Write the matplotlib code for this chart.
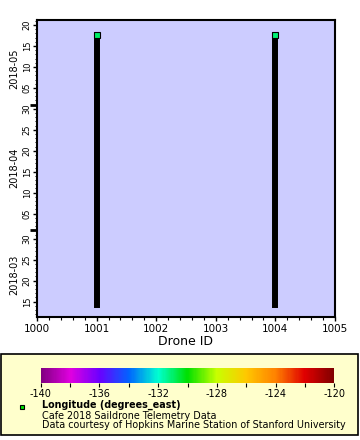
import matplotlib
matplotlib.use("Agg")
import matplotlib.pyplot as plt
import matplotlib.dates as mdates
import matplotlib.transforms as mtransforms
from matplotlib.colors import LinearSegmentedColormap, Normalize
from matplotlib.patches import Rectangle
import numpy as np

# donnees
drone_ids = [1001, 1004]
debut = ["2018-03-14T07:00", "2018-03-14T07:00"]
fin = ["2018-05-17T17:30", "2018-05-17T17:30"]
lon_fin = [-131.0, -131.1]

y_min, y_max = "2018-03-11T08:00", "2018-05-21T05:00"
x_min, x_max = 1000, 1005
lon_min, lon_max = -140, -120
mois = [("2018-05", "2018-05-09T12:00"), ("2018-04", "2018-04-16T00:00"), ("2018-03", "2018-03-21T12:00")]
debuts_mois = ["2018-04-01", "2018-05-01"]

# palette type "Rainbow" d'ERDDAP
couleurs = ["#800080", "#e000e0", "#6a00ff", "#0064ff", "#00ffd0", "#00e000",
            "#c8ff00", "#ffc800", "#ff8200", "#e00000", "#800000"]
cmap = LinearSegmentedColormap.from_list("rainbow_erddap", couleurs)
norm = Normalize(lon_min, lon_max)

def d(s):
    return mdates.date2num(np.datetime64(s))

fig = plt.figure(figsize=(3.6, 4.4), dpi=100)

# encadre de legende (derriere tout)
fig.patches.append(Rectangle((1/360, 1-435/440), 357/360, 81/440, transform=fig.transFigure,
                             facecolor="#ffffcc", edgecolor="black", lw=1.2, zorder=-5))

ax = fig.add_axes([37/360, 1-317/440, 298/360, 297/440])
ax.set_facecolor("#ccccff")

for i, drone in enumerate(drone_ids):
    ax.plot([drone, drone], [d(debut[i]), d(fin[i])], color="black", lw=4.3,
            solid_capstyle="projecting", zorder=2)
    ax.plot(drone, d(fin[i]), marker="s", ms=4.0, mfc=cmap(norm(lon_fin[i])),
            mec="black", mew=0.8, zorder=3)

ax.set_xlim(x_min, x_max)
ax.set_ylim(d(y_min), d(y_max))

# axe x
ax.set_xticks(range(x_min, x_max + 1))
ax.xaxis.set_minor_locator(matplotlib.ticker.MultipleLocator(0.2))
ax.tick_params(axis="x", which="major", length=3, width=1, labelsize=7.5, pad=2)
ax.tick_params(axis="x", which="minor", length=2, width=0.8)
ax.set_xlabel("Drone ID", fontsize=9, labelpad=1)

# axe y (dates)
ax.yaxis.set_major_locator(mdates.DayLocator(bymonthday=[5, 10, 15, 20, 25, 30]))
ax.yaxis.set_major_formatter(mdates.DateFormatter("%d"))
ax.yaxis.set_minor_locator(mdates.DayLocator())
ax.tick_params(axis="y", which="major", length=3, width=1, labelsize=6, pad=0.8)
ax.tick_params(axis="y", which="minor", length=1.5, width=0.7)
for lab in ax.get_yticklabels():
    lab.set_rotation(90)
    lab.set_va("center")

trans = mtransforms.blended_transform_factory(ax.transAxes, ax.transData)
for m in debuts_mois:
    ax.plot([-7/298, 0], [d(m), d(m)], color="black", lw=2, transform=trans,
            clip_on=False, solid_capstyle="butt")
for nom, pos in mois:
    ax.text(-23/298, d(pos), nom, rotation=90, ha="center", va="center",
            fontsize=7, transform=trans)

for s in ax.spines.values():
    s.set_linewidth(1.5)

cax = fig.add_axes([40.7/360, 1-382.7/440, 293.6/360, 14.4/440])
cb = matplotlib.colorbar.ColorbarBase(cax, cmap=cmap, norm=norm, orientation="horizontal")
cb.outline.set_visible(False)
cb.set_ticks(np.arange(lon_min, lon_max + 1, 4))
cax.xaxis.set_minor_locator(matplotlib.ticker.MultipleLocator(2))
cax.tick_params(which="both", length=3, width=0.8, labelsize=7, pad=1.5)
cax.set_xticklabels([str(v) for v in range(lon_min, lon_max + 1, 4)])

fig.lines.append(plt.Line2D([21.7/360], [1-407/440], marker="s", ms=3.5, mfc="#00e000",
                            mec="black", mew=0.8, transform=fig.transFigure))
fig.text(42/360, 1-405/440, "Longitude (degrees_east)", fontsize=6.9, fontweight="bold", va="center")
fig.text(42/360, 1-415.7/440, "Cafe 2018 Saildrone Telemetry Data", fontsize=6.9, va="center")
fig.text(42/360, 1-425/440, "Data courtesy of Hopkins Marine Station of Stanford University",
         fontsize=6.9, va="center")

fig.savefig("out.png", dpi=100)
